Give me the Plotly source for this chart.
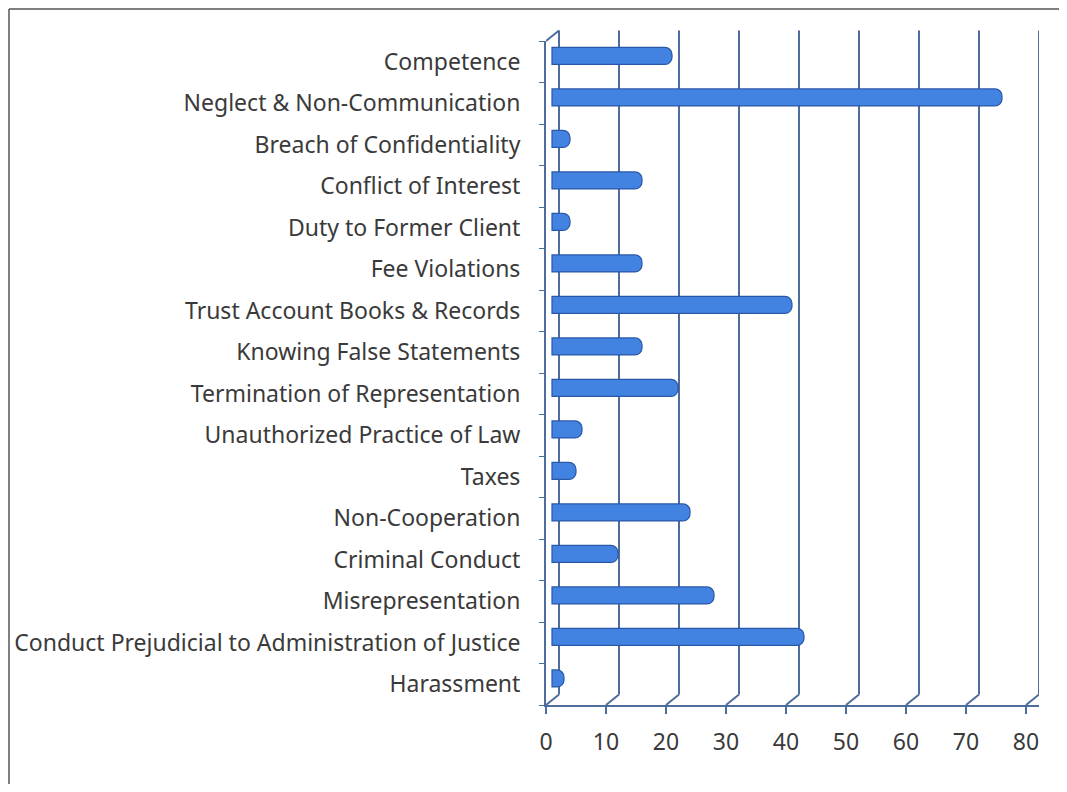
import plotly.graph_objects as go

categories = [
    "Competence",
    "Neglect & Non-Communication",
    "Breach of Confidentiality",
    "Conflict of Interest",
    "Duty to Former Client",
    "Fee Violations",
    "Trust Account Books & Records",
    "Knowing False Statements",
    "Termination of Representation",
    "Unauthorized Practice of Law",
    "Taxes",
    "Non-Cooperation",
    "Criminal Conduct",
    "Misrepresentation",
    "Conduct Prejudicial to Administration of Justice",
    "Harassment",
]
values = [20, 75, 3, 15, 3, 15, 40, 15, 21, 5, 4, 23, 11, 27, 42, 2]
tick_vals = [0, 10, 20, 30, 40, 50, 60, 70, 80]

# page shows an 8px body margin, so layout is offset by -8 px
W, H = 1051, 776
px_per_unit = 6.0
left, right_px = 538, 1031
top, bottom_px = 33, 697
pw = right_px - left
ph = bottom_px - top
n = len(categories)
cat_px = ph / n
main_range = [0, pw / px_per_unit]
depth_dx, depth_dy = 13, 10.5            # 3D depth of the back wall, px
back_shift = depth_dx / px_per_unit
bar_shift_x = 6 / px_per_unit            # bars sit at mid depth
bar_shift_y = 5.8 / cat_px

grid_col = "#4f6d9c"
text_col = "#3a3a3a"
fig = go.Figure()

fig.add_trace(go.Bar(
    y=categories, x=values, orientation="h", xaxis="x", yaxis="y2",
    width=0.41,
    marker=dict(color="#4283e2", line=dict(color="#2a58a8", width=1.2), cornerradius=7),
    showlegend=False, hoverinfo="x+y",
))
for ax in ("x", "x2", "x3"):
    fig.add_trace(go.Scatter(x=[0], y=[categories[0]], xaxis=ax, yaxis="y", mode="markers",
                             marker=dict(opacity=0), hoverinfo="skip", showlegend=False))

shapes = []
# back wall gridlines and floor diagonals
for v in tick_vals:
    shapes.append(dict(type="line", xref="x3", yref="paper", x0=v, x1=v,
                       y0=depth_dy / ph, y1=1 + depth_dy / ph,
                       line=dict(color=grid_col, width=2), layer="below"))
    shapes.append(dict(type="line", xref="x2", yref="paper", x0=v, x1=v + back_shift,
                       y0=0, y1=depth_dy / ph,
                       line=dict(color=grid_col, width=2), layer="below"))
# top-left diagonal of the wall
shapes.append(dict(type="line", xref="x2", yref="paper", x0=0, x1=back_shift,
                   y0=1, y1=1 + depth_dy / ph, line=dict(color=grid_col, width=2)))
# outer frame (left and top)
shapes.append(dict(type="line", xref="paper", yref="paper",
                   x0=-(left - 1) / pw, x1=-(left - 1) / pw,
                   y0=1 + (top - 1) / ph, y1=-(H - bottom_px) / ph,
                   line=dict(color="#555555", width=1.5)))
shapes.append(dict(type="line", xref="paper", yref="paper",
                   x0=-(left - 1) / pw, x1=1 + (W - right_px) / pw,
                   y0=1 + (top - 1) / ph, y1=1 + (top - 1) / ph,
                   line=dict(color="#555555", width=1.5)))

fig.update_layout(
    width=W, height=H,
    margin=dict(l=left, r=W - right_px, t=top, b=H - bottom_px, autoexpand=False),
    paper_bgcolor="white", plot_bgcolor="rgba(0,0,0,0)",
    font=dict(family="Noto Sans", size=23, color=text_col),
    xaxis=dict(range=[main_range[0] - bar_shift_x, main_range[1] - bar_shift_x],
               visible=False, fixedrange=True),
    xaxis2=dict(range=main_range, overlaying="x", side="bottom", tickvals=tick_vals,
                showgrid=False, zeroline=False,
                showline=True, linecolor=grid_col, linewidth=2, ticks="outside",
                ticklen=7, tickcolor=grid_col, tickwidth=2, ticklabelstandoff=8,
                tickfont=dict(size=23, color=text_col)),
    xaxis3=dict(range=[main_range[0] - back_shift, main_range[1] - back_shift],
                overlaying="x", visible=False),
    yaxis=dict(categoryorder="array", categoryarray=categories[::-1],
               range=[-0.5, n - 0.5],
               showline=True, linecolor=grid_col, linewidth=2,
               ticks="outside", tickson="boundaries", ticklen=5, tickcolor=grid_col,
               tickwidth=1, showgrid=False, ticklabelstandoff=19, automargin=False,
               tickfont=dict(size=23, color=text_col)),
    yaxis2=dict(categoryorder="array", categoryarray=categories[::-1],
                range=[-0.5 - bar_shift_y, n - 0.5 - bar_shift_y],
                overlaying="y", visible=False),
    shapes=shapes,
)

fig.write_html("out.html")
